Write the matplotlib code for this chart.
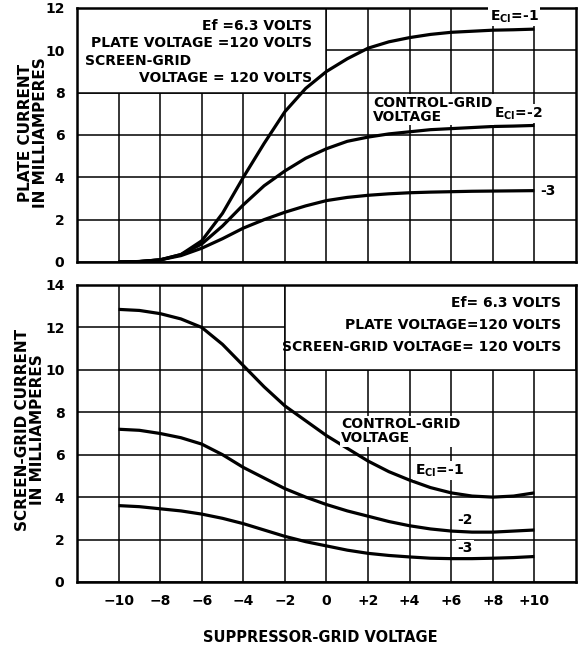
import numpy as np
import matplotlib.pyplot as plt
from matplotlib.patches import Rectangle

plt.rcParams['font.family'] = 'DejaVu Sans'
plt.rcParams['font.weight'] = 'bold'
plt.rcParams['mathtext.fontset'] = 'dejavusans'

# suppressor-grid voltage, 1 V steps
vg3 = np.arange(-10, 11)

# plate current (mA) for Ec1 = -1, -2, -3
plate_m1 = [0, 0.02, 0.1, 0.35, 1.0, 2.3, 4.0, 5.6, 7.1, 8.2, 9.0,
            9.6, 10.1, 10.4, 10.6, 10.75, 10.85, 10.9, 10.95, 10.97, 11.0]
plate_m2 = [0, 0.02, 0.1, 0.35, 0.85, 1.7, 2.7, 3.6, 4.3, 4.9, 5.35,
            5.7, 5.9, 6.05, 6.15, 6.25, 6.3, 6.35, 6.4, 6.42, 6.45]
plate_m3 = [0, 0.02, 0.1, 0.3, 0.65, 1.1, 1.6, 2.0, 2.35, 2.65, 2.9,
            3.05, 3.15, 3.22, 3.27, 3.3, 3.32, 3.34, 3.35, 3.36, 3.37]

# screen-grid current (mA)
screen_m1 = [12.85, 12.8, 12.65, 12.4, 12.0, 11.2, 10.2, 9.2, 8.3, 7.6, 6.9,
             6.3, 5.7, 5.2, 4.8, 4.45, 4.2, 4.05, 4.0, 4.05, 4.2]
screen_m2 = [7.2, 7.15, 7.0, 6.8, 6.5, 6.0, 5.4, 4.9, 4.4, 4.0, 3.65,
             3.35, 3.1, 2.85, 2.65, 2.5, 2.4, 2.35, 2.35, 2.4, 2.45]
screen_m3 = [3.6, 3.55, 3.45, 3.35, 3.2, 3.0, 2.75, 2.45, 2.15, 1.9, 1.7,
             1.5, 1.35, 1.25, 1.18, 1.12, 1.1, 1.1, 1.12, 1.15, 1.2]

xticks = list(range(-10, 11, 2))
xlabels = ['\u221210', '\u22128', '\u22126', '\u22124', '\u22122', '0',
           '+2', '+4', '+6', '+8', '+10']

fig = plt.figure(figsize=(5.78, 6.52), dpi=100)
ax1 = fig.add_axes([0.1332, 0.5982, 0.8633, 0.3896])
ax2 = fig.add_axes([0.1332, 0.1074, 0.8633, 0.4555])

lw_curve = 2.3
lw_grid = 1.1

for ax, ymax in ((ax1, 12), (ax2, 14)):
    ax.set_xlim(-12, 12)
    ax.set_ylim(0, ymax)
    ax.set_xticks(xticks)
    ax.set_yticks(range(0, ymax + 1, 2))
    ax.set_axisbelow(True)
    ax.grid(True, color='black', lw=lw_grid)
    ax.tick_params(length=0, labelsize=10, pad=9)
    for s in ax.spines.values():
        s.set_linewidth(1.8)

ax1.set_xticklabels([])
ax2.set_xticklabels(xlabels)

# white boxes that hold the operating conditions
ax1.add_patch(Rectangle((-12, 8), 12, 4, facecolor='white',
                        edgecolor='black', lw=lw_grid, zorder=1))
ax2.add_patch(Rectangle((-2, 10), 14, 4, facecolor='white',
                        edgecolor='black', lw=lw_grid, zorder=1))

for y in (plate_m1, plate_m2, plate_m3):
    ax1.plot(vg3, y, color='black', lw=lw_curve, zorder=3,
             solid_joinstyle='round', solid_capstyle='butt')
for y in (screen_m1, screen_m2, screen_m3):
    ax2.plot(vg3, y, color='black', lw=lw_curve, zorder=3,
             solid_joinstyle='round', solid_capstyle='butt')

wb = dict(facecolor='white', edgecolor='none', pad=1)
fs = 10

# top panel text
ax1.text(-0.7, 11.15, 'Ef =6.3 VOLTS', ha='right', va='center', fontsize=fs, zorder=2)
ax1.text(-0.7, 10.35, 'PLATE VOLTAGE =120 VOLTS', ha='right', va='center', fontsize=fs, zorder=2)
ax1.text(-11.6, 9.5, 'SCREEN-GRID', ha='left', va='center', fontsize=fs, zorder=2)
ax1.text(-0.7, 8.7, 'VOLTAGE = 120 VOLTS', ha='right', va='center', fontsize=fs, zorder=2)
ax1.text(7.85, 11.6, r'E$_{\mathbf{CI}}$=-1', ha='left', va='center', fontsize=fs, bbox=wb, zorder=4)
ax1.text(2.25, 7.2, 'CONTROL-GRID\nVOLTAGE', ha='left', va='center', fontsize=fs,
         linespacing=1.0, bbox=wb, zorder=4)
ax1.text(8.05, 7.0, r'E$_{\mathbf{CI}}$=-2', ha='left', va='center', fontsize=fs, bbox=wb, zorder=4)
ax1.text(10.3, 3.35, '-3', ha='left', va='center', fontsize=fs, bbox=wb, zorder=4)

# bottom panel text
ax2.text(11.3, 13.15, 'Ef= 6.3 VOLTS', ha='right', va='center', fontsize=fs, zorder=2)
ax2.text(11.3, 12.1, 'PLATE VOLTAGE=120 VOLTS', ha='right', va='center', fontsize=fs, zorder=2)
ax2.text(11.3, 11.1, 'SCREEN-GRID VOLTAGE= 120 VOLTS', ha='right', va='center', fontsize=fs, zorder=2)
ax2.text(0.7, 7.1, 'CONTROL-GRID\nVOLTAGE', ha='left', va='center', fontsize=fs,
         linespacing=1.0, bbox=wb, zorder=4)
ax2.text(4.25, 5.25, r'E$_{\mathbf{CI}}$=-1', ha='left', va='center', fontsize=fs, bbox=wb, zorder=4)
ax2.text(6.3, 2.9, '-2', ha='left', va='center', fontsize=fs, bbox=wb, zorder=4)
ax2.text(6.3, 1.6, '-3', ha='left', va='center', fontsize=fs, bbox=wb, zorder=4)

fig.text(33 / 578, 1 - 133 / 652, 'PLATE CURRENT\nIN MILLIAMPERES', rotation=90,
         ha='center', va='center', fontsize=11, linespacing=1.0)
fig.text(30 / 578, 1 - 430 / 652, 'SCREEN-GRID CURRENT\nIN MILLIAMPERES', rotation=90,
         ha='center', va='center', fontsize=11, linespacing=1.0)
fig.text(320 / 578, 1 - 638 / 652, 'SUPPRESSOR-GRID VOLTAGE', ha='center',
         va='center', fontsize=10.5)

fig.savefig('out.png', dpi=100, facecolor='white')
